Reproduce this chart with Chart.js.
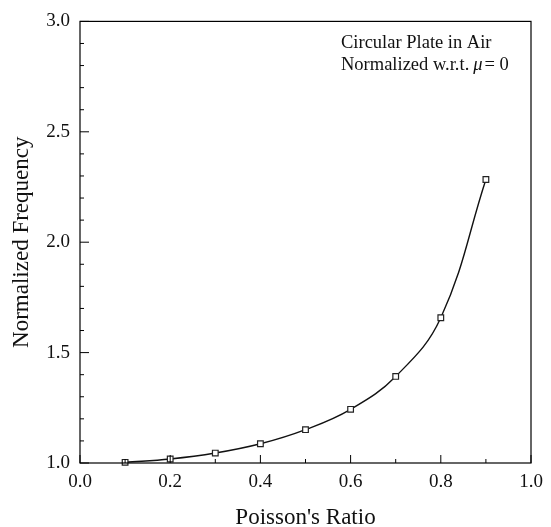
<!DOCTYPE html>
<html>
<head>
<meta charset="utf-8">
<script src="https://cdn.jsdelivr.net/npm/chart.js@4"></script>
<style>
  body { margin: 0; background: #fff; }
  canvas { display: block; }
</style>
</head>
<body>
<canvas id="plateChart" width="551" height="527"></canvas>
<script>
// Poisson's ratio vs normalized frequency
const poissonRatio = [0.1, 0.2, 0.3, 0.4, 0.5, 0.6, 0.7, 0.8, 0.9];
const normFrequency = [1.003, 1.018, 1.045, 1.087, 1.151, 1.243, 1.392, 1.658, 2.284];
const xTickLabels = ['0.0', '0.2', '0.4', '0.6', '0.8', '1.0'];
const yTickLabels = ['1.0', '1.5', '2.0', '2.5', '3.0'];
const noteLines = ['Circular Plate in Air', 'Normalized w.r.t.'];

const serif = "'Liberation Serif', 'DejaVu Serif', serif";

// inward ticks, box frame and the note text
const framePlugin = {
    id: 'frame',
    afterDraw(chart) {
        const ctx = chart.ctx;
        const a = chart.chartArea;
        const xs = chart.scales.x;
        const ys = chart.scales.y;
        ctx.save();
        ctx.strokeStyle = '#000';
        ctx.lineWidth = 1.2;
        ctx.strokeRect(a.left, a.top, a.right - a.left, a.bottom - a.top);

        ctx.lineWidth = 1;
        xs.ticks.forEach((t) => {
            const px = xs.getPixelForValue(t.value);
            const major = Math.round(t.value * 10) % 2 === 0;
            ctx.beginPath();
            ctx.moveTo(px, a.bottom);
            ctx.lineTo(px, a.bottom - (major ? 8 : 4));
            ctx.stroke();
        });
        ys.ticks.forEach((t) => {
            const py = ys.getPixelForValue(t.value);
            const major = Math.round(t.value * 10) % 5 === 0;
            ctx.beginPath();
            ctx.moveTo(a.left, py);
            ctx.lineTo(a.left + (major ? 9 : 4), py);
            ctx.stroke();
        });

        ctx.fillStyle = '#111';
        ctx.textBaseline = 'middle';
        ctx.textAlign = 'left';
        ctx.font = '18.5px ' + serif;
        const tx = a.left + 261;
        ctx.fillText(noteLines[0], tx, 43);
        ctx.fillText(noteLines[1], tx, 65);
        let cx = tx + ctx.measureText(noteLines[1]).width + 4;
        ctx.font = 'italic 18.5px ' + serif;
        ctx.fillText('\u03bc', cx, 65);
        cx += ctx.measureText('\u03bc').width + 2;
        ctx.font = '18.5px ' + serif;
        ctx.fillText('= 0', cx, 65);
        ctx.restore();
    }
};

new Chart(document.getElementById('plateChart'), {
    type: 'line',
    data: {
        labels: poissonRatio,
        datasets: [{
            data: poissonRatio.map((x, i) => ({ x: x, y: normFrequency[i] })),
            borderColor: '#111',
            borderWidth: 1.4,
            tension: 0.4,
            pointStyle: 'rect',
            pointRadius: 4,
            pointBackgroundColor: '#fff',
            pointBorderColor: '#222',
            pointBorderWidth: 1.2,
            clip: false
        }]
    },
    options: {
        responsive: false,
        animation: false,
        layout: { padding: { top: 18, right: 20, left: 0, bottom: 0 } },
        plugins: {
            legend: { display: false },
            tooltip: { enabled: false }
        },
        scales: {
            x: {
                type: 'linear',
                min: 0,
                max: 1,
                afterFit(scale) { scale.height = 64; },
                grid: { display: false, drawTicks: false },
                border: { display: false },
                ticks: {
                    stepSize: 0.1,
                    autoSkip: false,
                    maxRotation: 0,
                    padding: 8,
                    color: '#111',
                    font: { family: serif, size: 19 },
                    callback: (v) => {
                        const k = Math.round(v * 10);
                        return k % 2 === 0 ? xTickLabels[k / 2] : '';
                    }
                },
                title: {
                    display: true,
                    text: "Poisson's Ratio",
                    color: '#111',
                    font: { family: serif, size: 23, lineHeight: 0.8 },
                    padding: { top: 0, bottom: 0 }
                }
            },
            y: {
                min: 1,
                max: 3,
                afterFit(scale) { scale.width = 80; },
                grid: { display: false, drawTicks: false },
                border: { display: false },
                ticks: {
                    stepSize: 0.1,
                    autoSkip: false,
                    padding: 10,
                    color: '#111',
                    font: { family: serif, size: 19 },
                    callback: (v) => {
                        const k = Math.round(v * 10) - 10;
                        return k % 5 === 0 ? yTickLabels[k / 5] : '';
                    }
                },
                title: {
                    display: true,
                    text: 'Normalized Frequency',
                    color: '#111',
                    font: { family: serif, size: 23 },
                    padding: { top: 8, bottom: 0 }
                }
            }
        }
    },
    plugins: [framePlugin]
});
</script>
</body>
</html>
